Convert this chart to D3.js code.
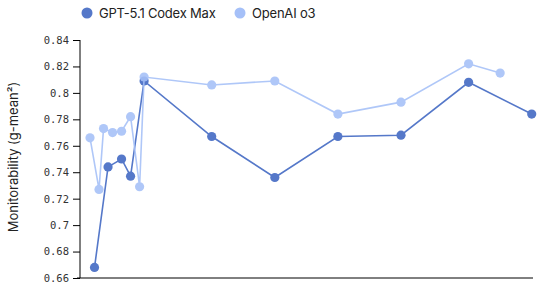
<!DOCTYPE html>
<html>
<head>
<meta charset="utf-8">
<script src="https://cdn.jsdelivr.net/npm/d3@7"></script>
<style>
  body { margin: 0; background: #fff; }
</style>
</head>
<body>
<script>
var seriesNames = ['GPT-5.1 Codex Max', 'OpenAI o3']
var codexX = [3, 6, 9, 11, 14, 29, 43, 57, 71, 86, 100]
var codexY = [0.668, 0.744, 0.750, 0.737, 0.809, 0.767, 0.736, 0.767, 0.768, 0.808, 0.784]
var o3X = [2, 4, 5, 7, 9, 11, 13, 14, 29, 43, 57, 71, 86, 93]
var o3Y = [0.766, 0.727, 0.773, 0.770, 0.771, 0.782, 0.729, 0.812, 0.806, 0.809, 0.784, 0.793, 0.822, 0.815]
var yTicks = [0.66, 0.68, 0.7, 0.72, 0.74, 0.76, 0.78, 0.8, 0.82, 0.84]
var colors = ['#5578c9', '#a5c0f8']

var width = 542, height = 287
var margin = {top: 40, right: 9, bottom: 9, left: 80}

var x = d3.scaleLinear().domain([0, 100]).range([81, 531.7])
var y = d3.scaleLinear().domain([0.66, 0.84]).range([278, 40])

var svg = d3.select('body').append('svg')
  .attr('width', width)
  .attr('height', height)

// y axis
var yAxis = svg.append('g')
  .attr('transform', `translate(${margin.left}, 0)`)
  .call(d3.axisLeft(y).tickValues(yTicks).tickSize(7).tickPadding(4).tickFormat(d => d3.format('')(d)))
yAxis.select('.domain').attr('stroke', '#000').attr('d', `M0,${y(0.84)}V${y(0.66)}`)
yAxis.selectAll('.tick line').attr('stroke', '#000')
yAxis.selectAll('.tick text')
  .attr('fill', '#333')
  .style('font-family', 'DejaVu Sans Mono, monospace')
  .style('font-size', '10.5px')

// x axis line, no ticks
svg.append('line')
  .attr('x1', 77).attr('x2', 533)
  .attr('y1', y(0.66)).attr('y2', y(0.66))
  .attr('stroke', '#000')

svg.append('text')
  .attr('transform', `translate(18, 157) rotate(-90)`)
  .attr('text-anchor', 'middle')
  .style('font-family', 'Inter, sans-serif')
  .style('font-size', '13px')
  .attr('fill', '#222')
  .text('Monitorability (g-mean²)')

var line = d3.line().x(d => x(d[0])).y(d => y(d[1]))

var series = [
  {name: seriesNames[0], pts: d3.zip(codexX, codexY), color: colors[0]},
  {name: seriesNames[1], pts: d3.zip(o3X, o3Y), color: colors[1]}
]

series.forEach(function (s, i) {
  var g = svg.append('g').attr('opacity', i === 1 ? 0.88 : 1)
  g.append('path')
    .datum(s.pts)
    .attr('d', line)
    .attr('fill', 'none')
    .attr('stroke', s.color)
    .attr('stroke-width', 1.6)
  g.selectAll('circle')
    .data(s.pts)
    .enter().append('circle')
    .attr('cx', d => x(d[0]))
    .attr('cy', d => y(d[1]))
    .attr('r', 4.6)
    .attr('fill', s.color)
})

// legend
var legendX = [87, 240]
series.forEach(function (s, i) {
  svg.append('circle')
    .attr('cx', legendX[i]).attr('cy', 13)
    .attr('r', 5.5)
    .attr('fill', s.color)
  svg.append('text')
    .attr('x', legendX[i] + 12).attr('y', 18)
    .style('font-family', 'Inter, sans-serif')
    .style('font-size', '13px')
    .style('letter-spacing', '-0.2px')
    .attr('fill', '#222')
    .text(s.name)
})
</script>
</body>
</html>
